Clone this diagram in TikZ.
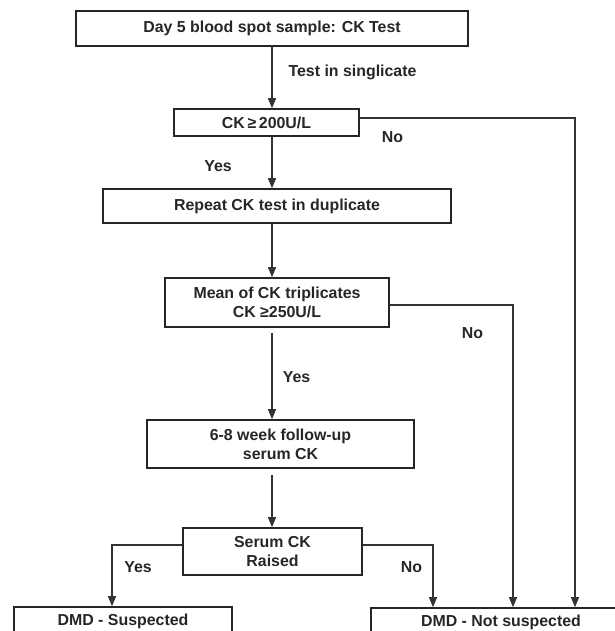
\documentclass[tikz,border=0pt]{standalone}
\usepackage{fontspec}
\setmainfont{Liberation Sans}
\usetikzlibrary{arrows.meta}
\begin{document}
\begin{tikzpicture}[x=1pt,y=-1pt,
    font=\bfseries\fontsize{15.9}{19}\selectfont,
    box/.style={draw=black!85,line width=1.6pt,inner sep=0pt,align=center,text=black!85},
    lbl/.style={text=black!85,inner sep=0pt},
    link/.style={draw=black!80,line width=1.1pt,-{Triangle[width=8pt,length=10pt]}}]
  \useasboundingbox (0,0) rectangle (614,631);
  \draw
    (272,28.5) node[box,minimum width=392,minimum height=35] (day5){Day 5 blood spot sample: CK Test}
    (266.5,122.5) node[box,minimum width=185,minimum height=27] (ck200){CK\,≥\,200U/L}
    (277,206) node[box,minimum width=348,minimum height=34] (repeat){Repeat CK test in duplicate}
    (277,302.5) node[box,minimum width=224,minimum height=49] (mean){Mean of CK triplicates\\CK ≥250U/L}
    (280.5,444) node[box,minimum width=267,minimum height=48] (follow){6-8 week follow-up\\serum CK}
    (272.5,551.5) node[box,minimum width=179,minimum height=47] (raised){Serum CK\\Raised}
    (123,621) node[box,minimum width=218,minimum height=28] (susp){DMD - Suspected}
    (501,622) node[box,minimum width=260,minimum height=28] (notsusp){DMD - Not suspected};
  \draw
    (352.5,72) node[lbl] (singl){Test in singlicate}
    (392.5,137) node[lbl] (no1){No}
    (218,166) node[lbl] (yes1){Yes}
    (472.5,333) node[lbl] (no2){No}
    (296.5,377) node[lbl] (yes2){Yes}
    (138,567) node[lbl] (yes3){Yes}
    (411.5,567) node[lbl] (no3){No};
  \coordinate (spine) at (272,0);
  \coordinate (colA) at (575,0);
  \coordinate (colB) at (513,0);
  \coordinate (colC) at (112,0);
  \coordinate (colD) at (433,0);
  \begin{scope}[link]
    \draw (spine |- day5.south) to (spine |- ck200.north);
    \draw (spine |- ck200.south) to (spine |- repeat.north);
    \draw (spine |- repeat.south) to (spine |- mean.north);
    \draw[shorten <=5pt] (spine |- mean.south) to (spine |- follow.north);
    \draw[shorten <=6pt] (spine |- follow.south) to (spine |- raised.north);
    \draw ([yshift=4.5pt]ck200.east) -| (colA |- notsusp.north);
    \draw ([yshift=-2.5pt]mean.east) -| (colB |- notsusp.north);
    \draw ([yshift=6.5pt]raised.west) -| (colC |- susp.north);
    \draw ([yshift=6.5pt]raised.east) -| (colD |- notsusp.north);
  \end{scope}
\end{tikzpicture}
\end{document}
